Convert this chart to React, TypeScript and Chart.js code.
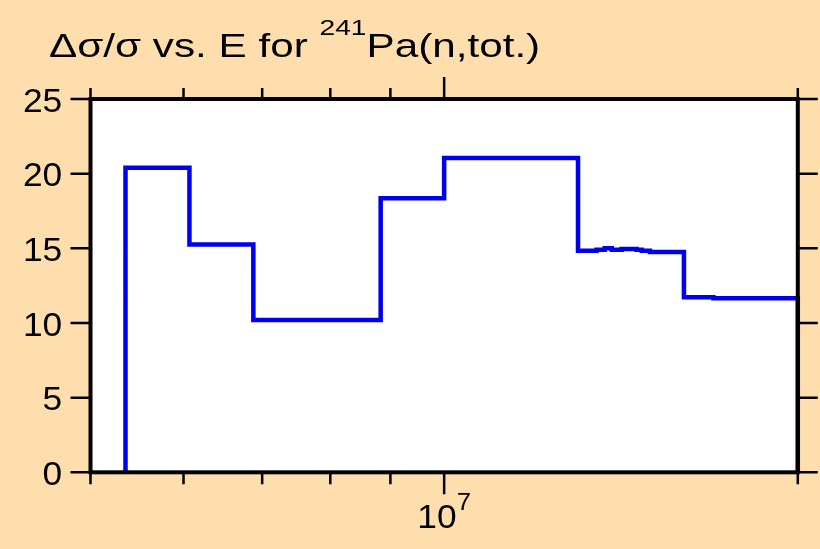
import React, { useEffect, useRef } from "react";
import { Chart, registerables } from "chart.js";

Chart.register(...registerables);

// Bin edges (eV) and values (%) of the step histogram
const binEdges = [
  5.355e6, 6.07e6, 6.88e6, 8.83e6, 1.0e7, 1.3e7, 1.348e7, 1.37e7, 1.389e7,
  1.416e7, 1.458e7, 1.473e7, 1.497e7, 1.6e7, 1.695e7, 2.0e7,
];
const binValues = [
  20.4, 15.25, 10.2, 18.35, 21.05, 14.83, 14.91, 15.0, 14.91, 14.96, 14.91,
  14.83, 14.75, 11.72, 11.65,
];

const yTickValues = [0, 5, 10, 15, 20, 25];
const xMinorTicks = [5e6, 6e6, 7e6, 8e6, 9e6, 2e7];
const xMajorTicks = [1e7];
const xMajorLabels = [{ base: "10", exp: "7" }];

const titleMain = "Δσ/σ vs. E for ";
const titleSup = "241";
const titleRest = "Pa(n,tot.)";

const FONT = '"Liberation Sans", Arial, Helvetica, sans-serif';
const BG = "#FFDEAD";
const LINE = "#0000EE";

function stretchedText(
  ctx: CanvasRenderingContext2D,
  text: string,
  x: number,
  y: number,
  sx: number,
  align: CanvasTextAlign
) {
  ctx.save();
  ctx.translate(x, y);
  ctx.scale(sx, 1);
  ctx.textAlign = align;
  ctx.textBaseline = "alphabetic";
  ctx.fillText(text, 0, 0);
  ctx.restore();
}

const framePlugin = {
  id: "framePlugin",
  beforeDatasetsDraw(chart: any) {
    const { ctx, chartArea } = chart;
    const { left, right, top, bottom } = chartArea;
    ctx.save();
    ctx.fillStyle = "#FFFFFF";
    ctx.fillRect(left, top, right - left, bottom - top);
    ctx.restore();
  },
  afterDatasetsDraw(chart: any) {
    const { ctx, chartArea, scales } = chart;
    const { left, right, top, bottom } = chartArea;
    const xs = scales.x;
    const ys = scales.y;
    ctx.save();
    ctx.strokeStyle = "#000000";
    ctx.lineCap = "butt";
    ctx.lineWidth = 2.5;
    ctx.beginPath();
    yTickValues.forEach((v) => {
      const y = ys.getPixelForValue(v);
      ctx.moveTo(left - 20, y);
      ctx.lineTo(left, y);
      ctx.moveTo(right, y);
      ctx.lineTo(right + 20, y);
    });
    xMinorTicks.forEach((v) => {
      const x = xs.getPixelForValue(v);
      ctx.moveTo(x, bottom);
      ctx.lineTo(x, bottom + 12);
      ctx.moveTo(x, top);
      ctx.lineTo(x, top - 11);
    });
    xMajorTicks.forEach((v) => {
      const x = xs.getPixelForValue(v);
      ctx.moveTo(x, bottom);
      ctx.lineTo(x, bottom + 22);
      ctx.moveTo(x, top);
      ctx.lineTo(x, top - 22);
    });
    ctx.stroke();
    ctx.lineWidth = 4;
    ctx.strokeRect(left, top, right - left, bottom - top);
    ctx.restore();
  },
  afterDraw(chart: any) {
    const { ctx, chartArea, scales } = chart;
    const xs = scales.x;
    const ys = scales.y;
    ctx.save();
    ctx.fillStyle = "#000000";
    const tickFont = 33;
    const tickSx = 1.07;
    ctx.font = `${tickFont}px ${FONT}`;
    yTickValues.forEach((v) => {
      const y = ys.getPixelForValue(v);
      stretchedText(ctx, String(v), chartArea.left - 28.3, y + 12.8, tickSx, "right");
    });
    xMajorTicks.forEach((v, i) => {
      const x = xs.getPixelForValue(v);
      const lab = xMajorLabels[i];
      ctx.font = `${tickFont}px ${FONT}`;
      const wb = ctx.measureText(lab.base).width * tickSx;
      ctx.font = `24px ${FONT}`;
      const we = ctx.measureText(lab.exp).width * tickSx;
      const start = x - (wb + we) / 2;
      ctx.font = `${tickFont}px ${FONT}`;
      stretchedText(ctx, lab.base, start, chartArea.bottom + 56, tickSx, "left");
      ctx.font = `24px ${FONT}`;
      stretchedText(ctx, lab.exp, start + wb, chartArea.bottom + 37.7, tickSx, "left");
    });
    const tSx = 1.28;
    let tx = 49;
    ctx.font = `33px ${FONT}`;
    stretchedText(ctx, titleMain, tx, 56.7, tSx, "left");
    tx += ctx.measureText(titleMain).width * tSx;
    ctx.font = `22px ${FONT}`;
    stretchedText(ctx, titleSup, tx, 35, tSx, "left");
    tx += ctx.measureText(titleSup).width * tSx;
    ctx.font = `33px ${FONT}`;
    stretchedText(ctx, titleRest, tx, 56.7, tSx, "left");
    ctx.restore();
  },
};

export default function App() {
  const canvasRef = useRef<HTMLCanvasElement | null>(null);

  useEffect(() => {
    const canvas = canvasRef.current;
    if (!canvas) return;
    const last = binEdges.length - 1;
    const points = [
      { x: binEdges[0], y: 0 },
      ...binValues.map((v, i) => ({ x: binEdges[i], y: v })),
      { x: binEdges[last], y: 0 },
    ];
    const chart = new Chart(canvas, {
      type: "line",
      data: {
        datasets: [
          {
            data: points,
            borderColor: LINE,
            borderWidth: 4.5,
            pointRadius: 0,
            fill: false,
            stepped: true,
            tension: 0,
            clip: false,
            borderJoinStyle: "miter",
            borderCapStyle: "butt",
          } as any,
        ],
      },
      options: {
        animation: false,
        responsive: false,
        events: [],
        layout: {
          padding: { left: 90.5, right: 22.2, top: 99, bottom: 76.7 },
        },
        scales: {
          x: { type: "logarithmic", min: 5e6, max: 2e7, display: false },
          y: { type: "linear", min: 0, max: 25, display: false },
        },
        plugins: {
          legend: { display: false },
          tooltip: { enabled: false },
          title: { display: false },
        },
      },
      plugins: [framePlugin],
    });
    return () => chart.destroy();
  }, []);

  return (
    <div
      style={{
        position: "fixed",
        left: 0,
        top: 0,
        width: 820,
        height: 549,
        background: BG,
      }}
    >
      <canvas ref={canvasRef} width={820} height={549} />
    </div>
  );
}
